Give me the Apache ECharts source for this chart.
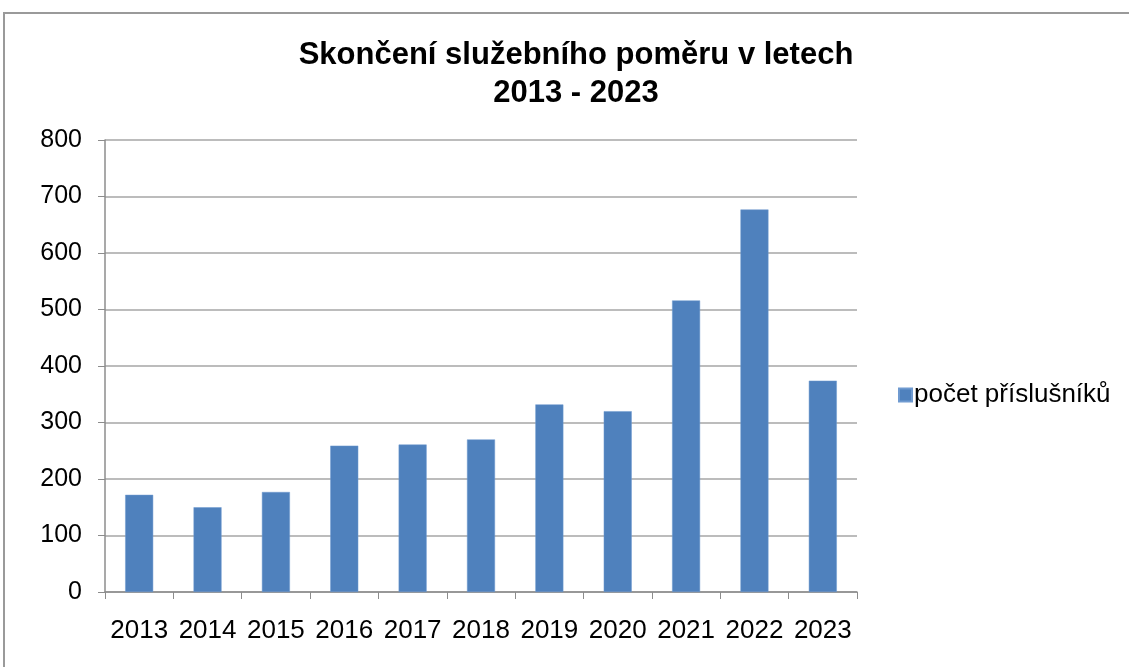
<!DOCTYPE html>
<html>
<head>
<meta charset="utf-8">
<script src="https://cdn.jsdelivr.net/npm/echarts@6/dist/echarts.min.js"></script>
<style>
  html, body { margin: 0; padding: 0; background: #fff; }
  #chart { width: 1129px; height: 667px; }
</style>
</head>
<body>
<div id="chart"></div>
<script>
// years on the x axis
const years = ['2013', '2014', '2015', '2016', '2017', '2018', '2019', '2020', '2021', '2022', '2023'];
// počet příslušníků per year
const counts = [172, 150, 177, 259, 261, 270, 332, 320, 516, 677, 374];
const yTicks = [0, 100, 200, 300, 400, 500, 600, 700, 800];

const fontFamily = '"Liberation Sans", Arial, sans-serif';

let myChart = echarts.init(document.getElementById('chart'));
let option = {
  animation: false,
  backgroundColor: '#fff',
  title: {
    text: 'Skončení služebního poměru v letech\n2013 - 2023',
    left: 571,
    top: 31,
    textAlign: 'center',
    textStyle: {
      fontFamily: fontFamily,
      fontSize: 31,
      fontWeight: 'bold',
      color: '#000',
      lineHeight: 38
    }
  },
  graphic: [
    {
      // outer chart frame, runs off the right and bottom edge
      type: 'rect',
      shape: { x: 4, y: 13, width: 1200, height: 700 },
      style: { fill: 'none', stroke: '#9a9a9a', lineWidth: 2 },
      silent: true
    }
  ],
  legend: {
    data: ['počet příslušníků'],
    left: 893,
    top: 377,
    icon: 'rect',
    itemWidth: 13,
    itemHeight: 13,
    itemGap: 4,
    textStyle: {
      fontFamily: fontFamily,
      fontSize: 26,
      color: '#000',
      padding: [0, 0, 0, -3]
    }
  },
  grid: {
    left: 105,
    right: 272,
    top: 140,
    bottom: 75,
    containLabel: false
  },
  xAxis: {
    type: 'category',
    data: years,
    axisLine: { lineStyle: { color: '#8c8c8c', width: 1.5 } },
    axisTick: { show: true, length: 7, alignWithLabel: false, lineStyle: { color: '#8c8c8c' } },
    axisLabel: {
      interval: 0,
      margin: 26,
      fontFamily: fontFamily,
      fontSize: 26,
      color: '#000'
    }
  },
  yAxis: {
    type: 'value',
    min: yTicks[0],
    max: yTicks[yTicks.length - 1],
    interval: 100,
    axisLine: { show: true, lineStyle: { color: '#8c8c8c', width: 1.5 } },
    axisTick: { show: true, length: 7, lineStyle: { color: '#8c8c8c' } },
    axisLabel: {
      margin: 23,
      fontFamily: fontFamily,
      fontSize: 25,
      color: '#000'
    },
    splitLine: { lineStyle: { color: '#a6a6a6', width: 1.5 } }
  },
  series: [
    {
      name: 'počet příslušníků',
      type: 'bar',
      data: counts,
      barWidth: 28,
      itemStyle: {
        color: '#4f81bd',
        borderColor: '#6f9ad0',
        borderWidth: 0.5
      }
    }
  ]
};
myChart.setOption(option);
</script>
</body>
</html>
